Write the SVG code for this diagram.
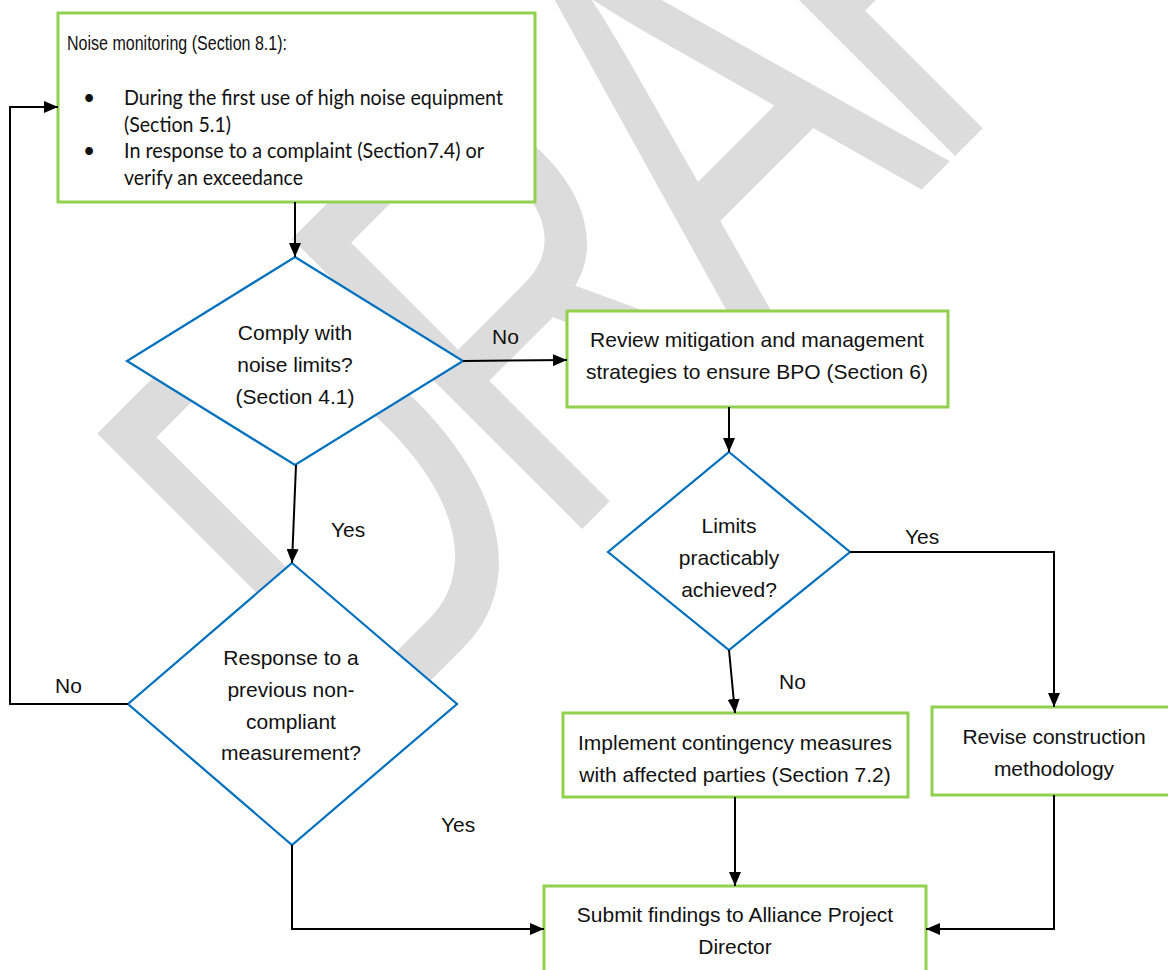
<svg xmlns="http://www.w3.org/2000/svg" width="1168" height="970" viewBox="0 0 1168 970">
<defs>
<marker id="ah" markerUnits="userSpaceOnUse" markerWidth="14" markerHeight="12" refX="14" refY="6" orient="auto">
<path d="M0,0 L14,6 L0,12 z" fill="#000"/>
</marker>
<style>
.box{fill:#fff;stroke:#92D050;stroke-width:3}
.dia{fill:#fff;stroke:#0070C0;stroke-width:2.2}
.t{font-family:"Liberation Sans",Arial,sans-serif;font-size:21px;fill:#111;text-anchor:middle}
.lb{font-family:"Liberation Sans",Arial,sans-serif;font-size:21px;fill:#111}
.cal{font-family:Lato,"Liberation Sans",sans-serif;font-size:21px;fill:#111}
.c{fill:none;stroke:#000;stroke-width:2}
.wm{font-family:"Liberation Sans",Arial,sans-serif;font-size:420px;fill:#dcdcdc;letter-spacing:-28px}
</style>
</defs>
<rect width="1168" height="970" fill="#fff"/>
<g id="watermark">
<text class="wm" transform="translate(363,748) rotate(-45) scale(1,1.42)">DRAFT</text>
</g>
<g id="n1">
<rect class="box" x="58" y="13" width="477" height="189"/>
<text class="lb" x="67" y="50" style="font-size:20px" textLength="220" lengthAdjust="spacingAndGlyphs">Noise monitoring (Section 8.1):</text>
<text class="cal" x="83" y="105">•</text>
<text class="cal" x="124" y="105" textLength="379" lengthAdjust="spacingAndGlyphs">During the first use of high noise equipment</text>
<text class="cal" x="124" y="132" textLength="107" lengthAdjust="spacingAndGlyphs">(Section 5.1)</text>
<text class="cal" x="83" y="158">•</text>
<text class="cal" x="124" y="158" textLength="360" lengthAdjust="spacingAndGlyphs">In response to a complaint (Section7.4) or</text>
<text class="cal" x="124" y="185" textLength="179" lengthAdjust="spacingAndGlyphs">verify an exceedance</text>
</g>
<g id="d1">
<polygon class="dia" points="295,257 463,361 295,465 127,361"/>
<text class="t" x="295" y="340">Comply with</text>
<text class="t" x="295" y="372">noise limits?</text>
<text class="t" x="295" y="404">(Section 4.1)</text>
</g>
<g id="n2">
<rect class="box" x="567" y="311" width="381" height="96"/>
<text class="t" x="757" y="347">Review mitigation and management</text>
<text class="t" x="757" y="379">strategies to ensure BPO (Section 6)</text>
</g>
<g id="d2">
<polygon class="dia" points="729,452 850,552 729,650 608,552"/>
<text class="t" x="729" y="533">Limits</text>
<text class="t" x="729" y="565">practicably</text>
<text class="t" x="729" y="597">achieved?</text>
</g>
<g id="d3">
<polygon class="dia" points="292,563 457,704 292,845 128,704"/>
<text class="t" x="291" y="665">Response to a</text>
<text class="t" x="291" y="697">previous non-</text>
<text class="t" x="291" y="729">compliant</text>
<text class="t" x="291" y="760">measurement?</text>
</g>
<g id="n3">
<rect class="box" x="563" y="713" width="345" height="84"/>
<text class="t" x="735" y="750">Implement contingency measures</text>
<text class="t" x="735" y="782">with affected parties (Section 7.2)</text>
</g>
<g id="n4">
<rect class="box" x="932" y="707" width="245" height="88"/>
<text class="t" x="1054" y="744">Revise construction</text>
<text class="t" x="1054" y="776">methodology</text>
</g>
<g id="n5">
<rect class="box" x="544" y="886" width="382" height="95"/>
<text class="t" x="735" y="922">Submit findings to Alliance Project</text>
<text class="t" x="735" y="954">Director</text>
</g>
<g id="connectors">
<path class="c" d="M295,202 L295,257" marker-end="url(#ah)"/>
<path class="c" d="M463,361 L567,360" marker-end="url(#ah)"/>
<path class="c" d="M296,465 L292,563" marker-end="url(#ah)"/>
<path class="c" d="M128,704 L10,704 L10,107 L58,107" marker-end="url(#ah)"/>
<path class="c" d="M292,845 L292,929 L544,929" marker-end="url(#ah)"/>
<path class="c" d="M729,407 L729,452" marker-end="url(#ah)"/>
<path class="c" d="M850,552 L1054,552 L1054,707" marker-end="url(#ah)"/>
<path class="c" d="M729,650 L735,713" marker-end="url(#ah)"/>
<path class="c" d="M735,797 L735,886" marker-end="url(#ah)"/>
<path class="c" d="M1054,795 L1054,929 L926,929" marker-end="url(#ah)"/>
<text class="lb" x="492" y="344">No</text>
<text class="lb" x="331" y="537">Yes</text>
<text class="lb" x="55" y="693">No</text>
<text class="lb" x="441" y="832">Yes</text>
<text class="lb" x="905" y="544">Yes</text>
<text class="lb" x="779" y="689">No</text>
</g>
</svg>
